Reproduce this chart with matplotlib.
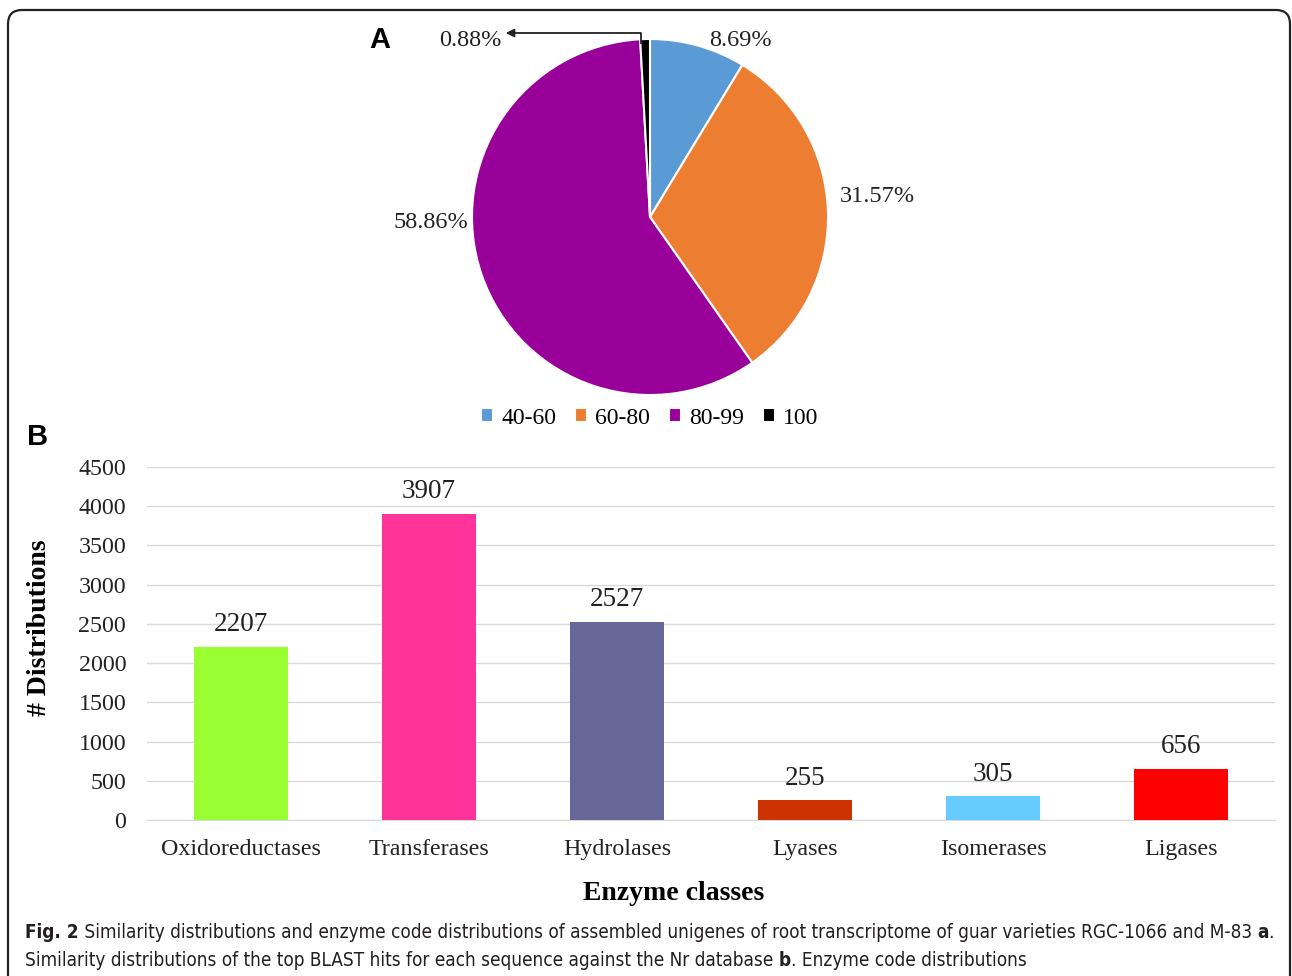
import matplotlib
matplotlib.use("Agg")
import matplotlib.pyplot as plt
from matplotlib.patches import FancyBboxPatch

# pie data (similarity %)
sim_labels = ["40-60", "60-80", "80-99", "100"]
sim_values = [8.69, 31.57, 58.86, 0.88]
sim_colors = ["#5B9BD5", "#ED7D31", "#990099", "#000000"]

# bar data (enzyme classes)
enzymes = ["Oxidoreductases", "Transferases", "Hydrolases", "Lyases", "Isomerases", "Ligases"]
counts = [2207, 3907, 2527, 255, 305, 656]
bar_colors = ["#99FF33", "#FF3399", "#666699", "#CC3300", "#66CCFF", "#FF0000"]
yticks = [0, 500, 1000, 1500, 2000, 2500, 3000, 3500, 4000, 4500]

W, H = 1292, 976
fig = plt.figure(figsize=(W / 100, H / 100), dpi=100)
serif = "Liberation Serif"

# outer rounded frame (open at the bottom)
frame = FancyBboxPatch((8, -30), 1282, 996, boxstyle="round,pad=0,rounding_size=14",
                       transform=None, fill=False, edgecolor="#222222", linewidth=1.6)
fig.patches.append(frame)

# ---- A : pie
cx, cy, r = 650, 217, 178
axp = fig.add_axes([(cx - r) / W, 1 - (cy + r) / H, 2 * r / W, 2 * r / H])
wedges, _ = axp.pie(sim_values, colors=sim_colors, startangle=90, counterclock=False,
                    wedgeprops=dict(edgecolor="white", linewidth=1.5))
axp.set_xlim(-1, 1)
axp.set_ylim(-1, 1)
axp.set_aspect("equal")

def pd(x, y):
    return ((x - cx) / r, (cy - y) / r)

lab_pos = [(740, 40), (877, 197), (431, 222), (470, 40)]
for v, (x, y) in zip(sim_values, lab_pos):
    axp.text(*pd(x, y), "%.2f%%" % v, ha="center", va="center", fontsize=17.5,
             family=serif, color="#222222", clip_on=False)
# arrow for the tiny slice
p0, p1, p2 = pd(641, 43), pd(641, 33), pd(503, 33)
axp.plot([p0[0], p1[0], p1[0] - 0.05], [p0[1], p1[1], p1[1]], color="#222222", lw=1.3, clip_on=False)
axp.annotate("", xy=p2, xytext=(p1[0] - 0.04, p1[1]),
             arrowprops=dict(arrowstyle="-|>", color="#222222", lw=1.3, mutation_scale=12),
             annotation_clip=False)

fig.legend(wedges, sim_labels, loc="center", bbox_to_anchor=(650 / W, 1 - 418 / H), ncol=4,
           frameon=False, handlelength=0.5, handleheight=0.5, handletextpad=0.35,
           columnspacing=0.8, prop=dict(family=serif, size=17))

fig.text(380 / W, 1 - 40 / H, "A", fontsize=21, fontweight="bold", family="Liberation Sans",
         ha="center", va="center")
fig.text(38 / W, 1 - 437 / H, "B", fontsize=21, fontweight="bold", family="Liberation Sans",
         ha="center", va="center")

# ---- B : bars
axb = fig.add_axes([147 / W, 1 - 820 / H, 1128 / W, 353 / H])
xs = list(range(len(enzymes)))
axb.bar(xs, counts, width=0.5, color=bar_colors, zorder=3)
for x, c in zip(xs, counts):
    axb.text(x, c + 120, str(c), ha="center", va="bottom", fontsize=19.5, family=serif, color="#222222")
axb.set_xlim(-0.5, len(enzymes) - 0.5)
axb.set_ylim(0, 4500)
axb.set_yticks(yticks)
axb.set_xticks(xs)
axb.set_xticklabels(enzymes)
axb.grid(axis="y", color="#D9D9D9", linewidth=1, zorder=0)
for s in ["top", "right", "left"]:
    axb.spines[s].set_visible(False)
axb.spines["bottom"].set_color("#D9D9D9")
axb.tick_params(axis="both", length=0, labelsize=17.3, colors="#222222")
axb.tick_params(axis="x", pad=14)
axb.tick_params(axis="y", pad=15)
for t in axb.get_xticklabels() + axb.get_yticklabels():
    t.set_family(serif)
fig.text(674 / W, 1 - 893 / H, "Enzyme classes", fontsize=20, fontweight="bold", family=serif,
         ha="center", va="center")
fig.text(40 / W, 1 - 628 / H, "# Distributions", fontsize=20, fontweight="bold", family=serif,
         ha="center", va="center", rotation=90)

# ---- caption
cap_font = ["DejaVu Sans"]
line1 = [("Fig. 2", "bold"),
         (" Similarity distributions and enzyme code distributions of assembled unigenes of root "
          "transcriptome of guar varieties RGC-1066 and M-83 ", "normal"),
         ("a", "bold"), (".", "normal")]
line2 = [("Similarity distributions of the top BLAST hits for each sequence against the Nr database ", "normal"),
         ("b", "bold"), (". Enzyme code distributions", "normal")]

fig.canvas.draw()
rend = fig.canvas.get_renderer()

def put_line(parts, y, size):
    x = 25
    objs = []
    for s, wgt in parts:
        t = fig.text(x / W, 1 - y / H, s, fontsize=size, fontweight=wgt, family=cap_font,
                     stretch="condensed", va="center", color="#231F20")
        bb = t.get_window_extent(rend)
        x = bb.x1
        objs.append(t)
    return x, objs

# shrink the caption until line 1 fits the frame width
size = 13.8
while True:
    xend, objs = put_line(line1, 933, size)
    if xend <= 1282:
        break
    for o in objs:
        o.remove()
    size -= 0.2
put_line(line2, 960, size)

fig.savefig("out.png", dpi=100)
